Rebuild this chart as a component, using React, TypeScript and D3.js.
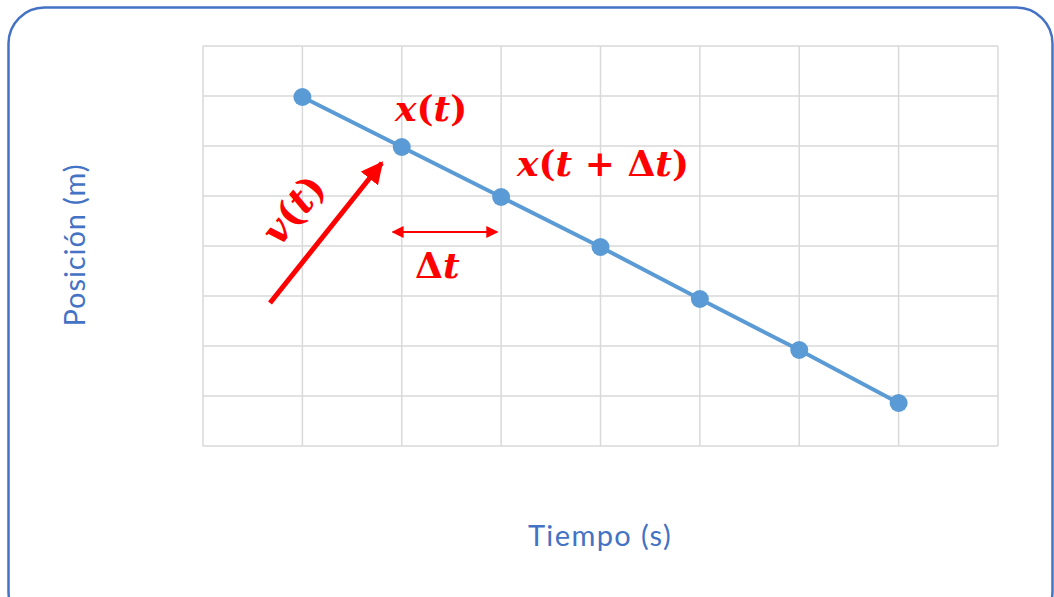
import React from 'react';
import * as d3 from 'd3';

// data
const tiempo = [1, 2, 3, 4, 5, 6, 7];
const posicion = [6.98, 5.98, 4.98, 3.98, 2.94, 1.92, 0.86];
const xTicks = [0, 1, 2, 3, 4, 5, 6, 7, 8];
const yTicks = [0, 1, 2, 3, 4, 5, 6, 7, 8];

const W = 1054;
const H = 597;
const BLUE = '#5B9BD5';
const FRAME = '#4472C4';
const RED = '#FF0000';
const MATH = '"DejaVu Serif", "Liberation Serif", serif';

export default function App() {
    const x = d3.scaleLinear().domain([0, 8]).range([203, 998]);
    const y = d3.scaleLinear().domain([0, 8]).range([446, 46]);

    const line = d3
        .line<number>()
        .x((d, i) => x(tiempo[i]))
        .y((d) => y(d));

    // annotations hang off the data points
    const p1 = { x: x(tiempo[1]), y: y(posicion[1]) };
    const p2 = { x: x(tiempo[2]), y: y(posicion[2]) };

    return (
        <svg
            width={W}
            height={H}
            style={{ position: 'absolute', left: 0, top: 0, background: '#fff' }}
        >
            <defs>
                <marker
                    id="head"
                    viewBox="0 0 10 10"
                    refX="9"
                    refY="5"
                    markerWidth="4.4"
                    markerHeight="4.4"
                    orient="auto-start-reverse"
                >
                    <path d="M0,0 L10,5 L0,10 z" fill={RED} />
                </marker>
                <marker
                    id="smallhead"
                    viewBox="0 0 10 10"
                    refX="9"
                    refY="5"
                    markerWidth="6"
                    markerHeight="6"
                    orient="auto-start-reverse"
                >
                    <path d="M0,0 L10,5 L0,10 z" fill={RED} />
                </marker>
            </defs>

            <rect
                x={8.5}
                y={7.5}
                width={1044}
                height={620}
                rx={36}
                fill="#fff"
                stroke={FRAME}
                strokeWidth={2.5}
            />

            <g>
                {xTicks.map((t) => (
                    <line
                        key={'vx' + t}
                        x1={x(t)}
                        x2={x(t)}
                        y1={y(8)}
                        y2={y(0)}
                        stroke="#D9D9D9"
                        strokeWidth={1.5}
                    />
                ))}
                {yTicks.map((t) => (
                    <line
                        key={'hy' + t}
                        x1={x(0)}
                        x2={x(8)}
                        y1={y(t)}
                        y2={y(t)}
                        stroke="#D9D9D9"
                        strokeWidth={1.5}
                    />
                ))}
            </g>

            <path
                d={line(posicion) || ''}
                fill="none"
                stroke={BLUE}
                strokeWidth={4}
            />
            {posicion.map((v, i) => (
                <circle
                    key={i}
                    cx={x(tiempo[i])}
                    cy={y(v)}
                    r={9}
                    fill={BLUE}
                />
            ))}

            {/* v(t) arrow */}
            <line
                x1={270}
                y1={303}
                x2={p1.x - 20}
                y2={p1.y + 16}
                stroke={RED}
                strokeWidth={5}
                markerEnd="url(#head)"
            />
            <text
                transform="translate(280,247) rotate(-51)"
                fontFamily={MATH}
                fontSize={38}
                fontWeight="bold"
                fill={RED}
            >
                <tspan fontStyle="italic">v</tspan>(<tspan fontStyle="italic">t</tspan>)
            </text>

            {/* Δt double arrow */}
            <line
                x1={p1.x - 9}
                x2={p2.x - 4}
                y1={232}
                y2={232}
                stroke={RED}
                strokeWidth={2}
                markerStart="url(#smallhead)"
                markerEnd="url(#smallhead)"
            />
            <text
                x={415}
                y={278}
                fontFamily={MATH}
                fontSize={36}
                fontWeight="bold"
                fill={RED}
            >
                Δ<tspan fontStyle="italic">t</tspan>
            </text>

            <text
                x={395}
                y={121}
                fontFamily={MATH}
                fontSize={36}
                fontWeight="bold"
                fill={RED}
            >
                <tspan fontStyle="italic">x</tspan>(<tspan fontStyle="italic">t</tspan>)
            </text>
            <text
                x={517}
                y={176}
                fontFamily={MATH}
                fontSize={36}
                fontWeight="bold"
                fill={RED}
                style={{ whiteSpace: 'pre' }}
            >
                <tspan fontStyle="italic">x</tspan>(<tspan fontStyle="italic">t</tspan>
                {' + Δ'}
                <tspan fontStyle="italic">t</tspan>)
            </text>

            <text
                transform="translate(85,245) rotate(-90)"
                textAnchor="middle"
                fontFamily="Lato, sans-serif"
                fontSize={29}
                letterSpacing={0.9}
                fill={FRAME}
            >
                Posición (m)
            </text>
            <text
                x={600}
                y={546}
                textAnchor="middle"
                fontFamily="Lato, sans-serif"
                fontSize={29}
                letterSpacing={1.4}
                fill={FRAME}
            >
                Tiempo (s)
            </text>
        </svg>
    );
}
